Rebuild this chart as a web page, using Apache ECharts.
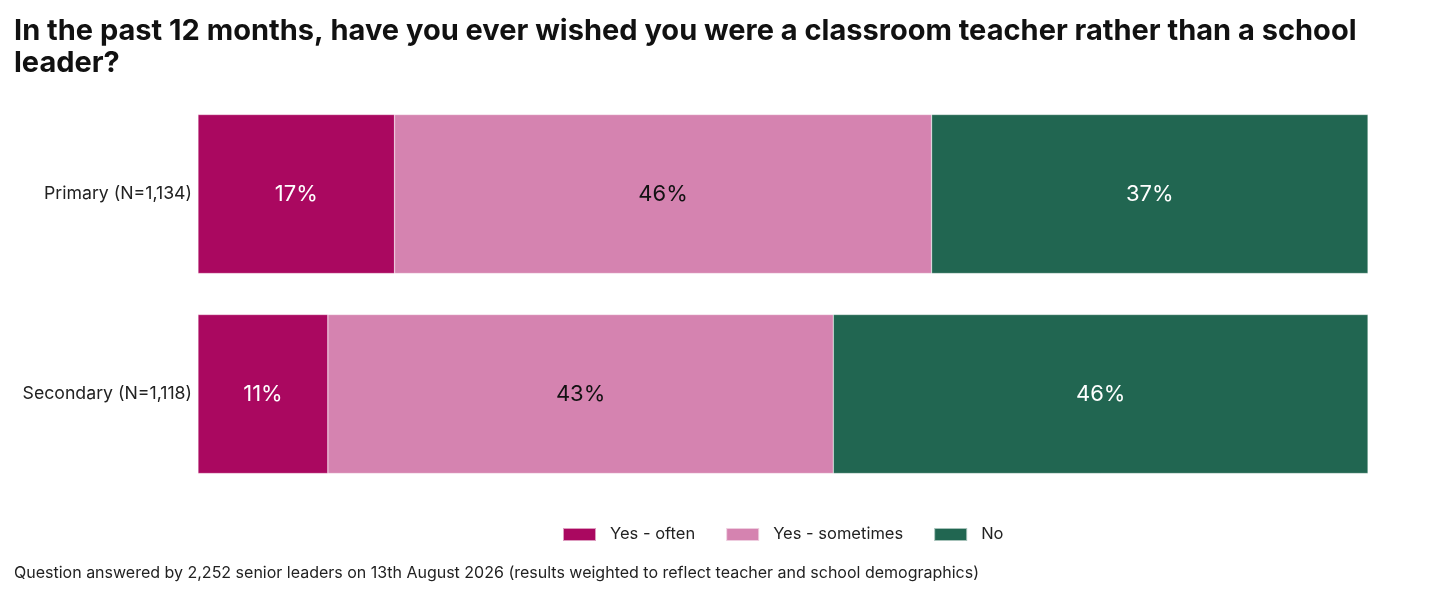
<!DOCTYPE html>
<html><head><meta charset="utf-8">
<script src="https://cdn.jsdelivr.net/npm/echarts@6/dist/echarts.min.js"></script>
<style>html,body{margin:0;padding:0;background:#fff;}#c{width:1440px;height:600px;}</style>
</head><body><div id="c"></div>
<script>
const categories = ['Primary (N=1,134)', 'Secondary (N=1,118)'];
const seriesNames = ['Yes - often', 'Yes - sometimes', 'No'];
const yesOften = [16.8, 11.1];
const yesSometimes = [45.9, 43.2];
const no = [37.3, 45.7];
const colors = ['#AA0860', '#D583B0', '#216651'];
const labelColors = ['#ffffff', '#111111', '#ffffff'];
const values = [yesOften, yesSometimes, no];

const chart = echarts.init(document.getElementById('c'));
chart.setOption({
  animation: false,
  textStyle: {fontFamily: 'Inter'},
  title: [{
    text: 'In the past 12 months, have you ever wished you were a classroom teacher rather than a school\nleader?',
    left: 14, top: 15, padding: 0,
    textStyle: {fontFamily: 'Inter', fontWeight: 700, fontSize: 29, lineHeight: 32, color: '#111', letterSpacing: -0.25}
  }, {
    text: 'Question answered by 2,252 senior leaders on 13th August 2026 (results weighted to reflect teacher and school demographics)',
    left: 14, top: 565, padding: 0,
    textStyle: {fontFamily: 'Inter', fontWeight: 400, fontSize: 16, color: '#222'}
  }],
  legend: {
    data: seriesNames,
    left: 562, top: 526, padding: 0,
    itemWidth: 33, itemHeight: 13, itemGap: 30,
    textStyle: {fontSize: 16.5, color: '#222', padding: [0,0,0,9]},
    icon: 'rect'
  },
  grid: {left: 198, right: 72, top: 94, bottom: 106},
  xAxis: {type: 'value', min: 0, max: 100, show: false},
  yAxis: {
    type: 'category', data: categories, inverse: true,
    axisLine: {show: false}, axisTick: {show: false},
    axisLabel: {fontSize: 17.7, color: '#222', margin: 6}
  },
  series: values.map((v, i) => ({
    name: seriesNames[i], type: 'bar', stack: 'total', data: v,
    barWidth: 159,
    itemStyle: {color: colors[i], borderColor: 'rgba(255,255,255,0.6)', borderWidth: 0.5},
    label: {show: true, position: 'inside', fontSize: 22, color: labelColors[i],
      formatter: p => Math.round(p.value) + '%'}
  }))
});
</script></body></html>
